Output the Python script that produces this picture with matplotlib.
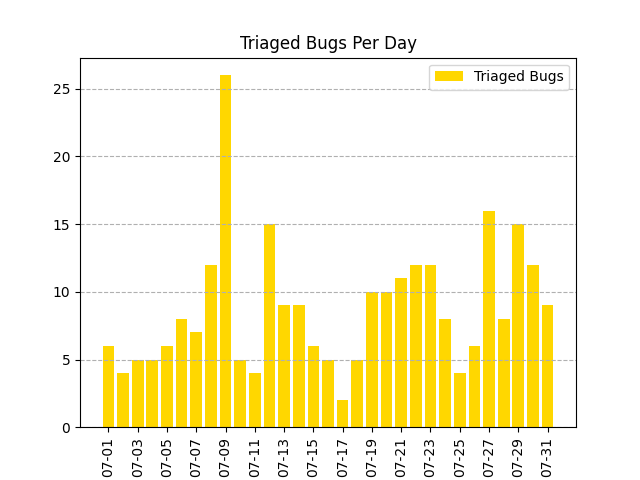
import matplotlib
matplotlib.use("Agg")
import matplotlib.pyplot as plt

days = [f"07-{d:02d}" for d in range(1, 32)]
counts = [6, 4, 5, 5, 6, 8, 7, 12, 26, 5, 4, 15, 9, 9, 6, 5, 2, 5, 10, 10,
          11, 12, 12, 8, 4, 6, 16, 8, 15, 12, 9]

fig, ax = plt.subplots(figsize=(6.4, 4.8), dpi=100)
ax.bar(days, counts, color="gold", label="Triaged Bugs")
ax.set_xticks(range(0, len(days), 2))
ax.set_xticklabels(days[::2], rotation=90)
ax.grid(axis="y", linestyle="--")
ax.set_title("Triaged Bugs Per Day")
ax.legend()
fig.savefig("out.png")
